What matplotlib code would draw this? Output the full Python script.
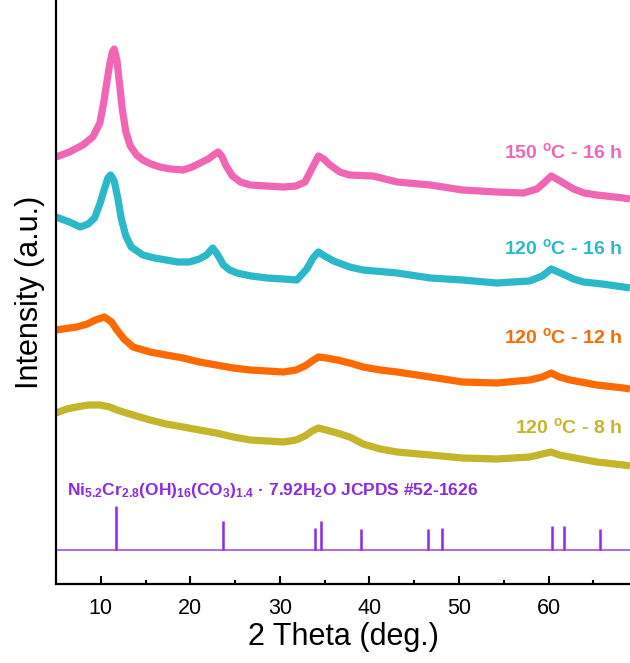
import matplotlib
matplotlib.use('Agg')
import matplotlib.pyplot as plt

plt.rcParams['font.family'] = ['Liberation Sans', 'DejaVu Sans']
plt.rcParams['mathtext.default'] = 'regular'

# XRD traces, already stacked with their vertical offsets (a.u.)
tt_150_16 = [5.0, 6.5, 8.0, 9.1, 9.9, 10.3, 10.7, 11.0, 11.3, 11.5, 11.8, 12.1, 12.4, 12.8,
             13.3, 14.0, 14.7, 15.6, 16.6, 17.8, 19.2, 20.2, 21.1, 22.0, 22.6, 23.1, 23.5,
             24.0, 24.7, 25.6, 26.7, 28.5, 30.4, 31.8, 32.8, 33.5, 34.3, 34.9, 35.6, 36.7,
             37.8, 40.4, 43.1, 46.8, 50.4, 54.2, 57.2, 58.7, 59.6, 60.3, 61.3, 62.8, 64.0,
             65.4, 68.4, 69.1]
i_150_16 = [427, 432, 439, 447, 461, 480, 503, 520, 532, 535, 524, 500, 475, 452,
            438, 429, 424, 420, 417, 415, 414, 417, 421, 425, 429, 432, 428,
            418, 408, 402, 399, 398, 397, 398, 402, 414, 428, 425, 419, 412,
            409, 408, 402, 399, 394, 392, 391, 395, 402, 408, 403, 395, 391,
            389, 386, 385]

tt_120_16 = [5.0, 6.5, 7.7, 8.6, 9.3, 9.9, 10.4, 10.8, 11.1, 11.5, 11.9, 12.3, 12.8, 13.4,
             14.7, 16.0, 17.3, 18.6, 19.9, 21.0, 21.8, 22.5, 23.0, 23.7, 24.4, 25.2, 26.8,
             28.6, 30.4, 31.9, 33.0, 33.7, 34.3, 35.0, 36.0, 37.8, 39.3, 43.1, 46.8, 50.4,
             54.2, 57.9, 59.3, 60.3, 61.6, 62.8, 63.9, 66.0, 68.4, 69.1]
i_120_16 = [367, 362, 357, 360, 366, 380, 395, 406, 409, 403, 386, 365, 348, 337,
            329, 326, 324, 322, 322, 325, 329, 336, 330, 319, 314, 311, 308,
            306, 305, 304, 315, 326, 332, 328, 323, 317, 314, 311, 306, 304,
            301, 303, 308, 315, 310, 305, 302, 300, 297, 296]

tt_120_12 = [5.0, 7.3, 8.5, 9.4, 10.4, 11.2, 11.8, 12.6, 13.6, 15.5, 17.3, 19.2, 21.0,
             22.9, 24.8, 26.7, 28.6, 30.4, 31.8, 32.8, 33.6, 34.3, 35.2, 36.4, 37.8, 39.3,
             41.2, 43.1, 46.8, 50.4, 54.2, 57.9, 59.3, 60.3, 61.2, 62.4, 65.4, 68.4, 69.1]
i_120_12 = [254, 257, 260, 264, 267, 262, 254, 245, 237, 232, 229, 226, 222,
            219, 216, 214, 213, 212, 214, 218, 223, 227, 226, 224, 221, 217,
            214, 212, 207, 202, 201, 204, 207, 211, 207, 204, 199, 196, 195]

tt_120_8 = [5.0, 6.2, 7.3, 8.6, 9.9, 11.0, 11.8, 13.6, 15.5, 17.3, 19.2, 21.0, 22.9,
            24.8, 26.7, 28.6, 30.4, 31.8, 32.8, 33.6, 34.3, 35.2, 36.4, 37.8, 39.3, 41.2,
            43.1, 46.8, 50.4, 54.2, 57.9, 59.3, 60.3, 61.2, 62.4, 65.4, 68.4, 69.1]
i_120_8 = [171, 175, 177, 179, 179, 177, 174, 169, 164, 160, 157, 154, 151,
           147, 144, 143, 142, 144, 148, 153, 156, 154, 151, 147, 140, 135,
           132, 129, 126, 125, 127, 130, 132, 129, 127, 122, 119, 118]

# JCPDS #52-1626 reference lines
ref_tt = [11.7, 23.6, 33.9, 34.6, 39.1, 46.5, 48.1, 60.4, 61.7, 65.7]
ref_h = [44, 29, 22, 29, 21, 21, 22, 24, 24, 21]
ref_base = 34

series = [
    (tt_150_16, i_150_16, '#f066b4', '150 $^{o}$C - 16 h', 432),
    (tt_120_16, i_120_16, '#2bb8c9', '120 $^{o}$C - 16 h', 336),
    (tt_120_12, i_120_12, '#ff6a00', '120 $^{o}$C - 12 h', 247),
    (tt_120_8, i_120_8, '#c4b52a', '120 $^{o}$C - 8 h', 157),
]
purple = '#8a2be2'

fig = plt.figure(figsize=(6.3, 6.63), dpi=100)
ax = fig.add_axes([56 / 630, 79 / 663, 1 - 56 / 630, 1 - 79 / 663])

for tt, inten, col, lab, ly in series:
    ax.plot(tt, inten, color=col, lw=5.2, solid_joinstyle='round', solid_capstyle='butt')
    ax.text(68.2, ly, lab, color=col, fontsize=14, fontweight='bold',
            ha='right', va='center')

ax.axhline(ref_base, color='#a060e8', lw=1.3)
ax.vlines(ref_tt, ref_base, [ref_base + h for h in ref_h], color=purple, lw=1.8)
ax.text(6.2, 93, 'Ni$_{5.2}$Cr$_{2.8}$(OH)$_{16}$(CO$_3$)$_{1.4}$ \u00b7 7.92H$_2$O JCPDS #52-1626',
        color=purple, fontsize=12.5, fontweight='bold', ha='left', va='center')

ax.set_xlim(5, 69.1)
ax.set_ylim(0, 584)
ax.set_xticks([10, 20, 30, 40, 50, 60])
ax.set_xticks([15, 25, 35, 45, 55, 65], minor=True)
ax.set_yticks([])
ax.tick_params(axis='x', which='major', direction='in', length=6, width=1.5, labelsize=15.5, pad=10)
ax.tick_params(axis='x', which='minor', direction='in', length=3, width=1.5)
for side in ['top', 'right']:
    ax.spines[side].set_visible(False)
for side in ['left', 'bottom']:
    ax.spines[side].set_linewidth(1.6)

ax.set_xlabel('2 Theta (deg.)', fontsize=22, labelpad=2)
ax.set_ylabel('Intensity (a.u.)', fontsize=22, labelpad=8)

fig.savefig('out.png', dpi=100)
